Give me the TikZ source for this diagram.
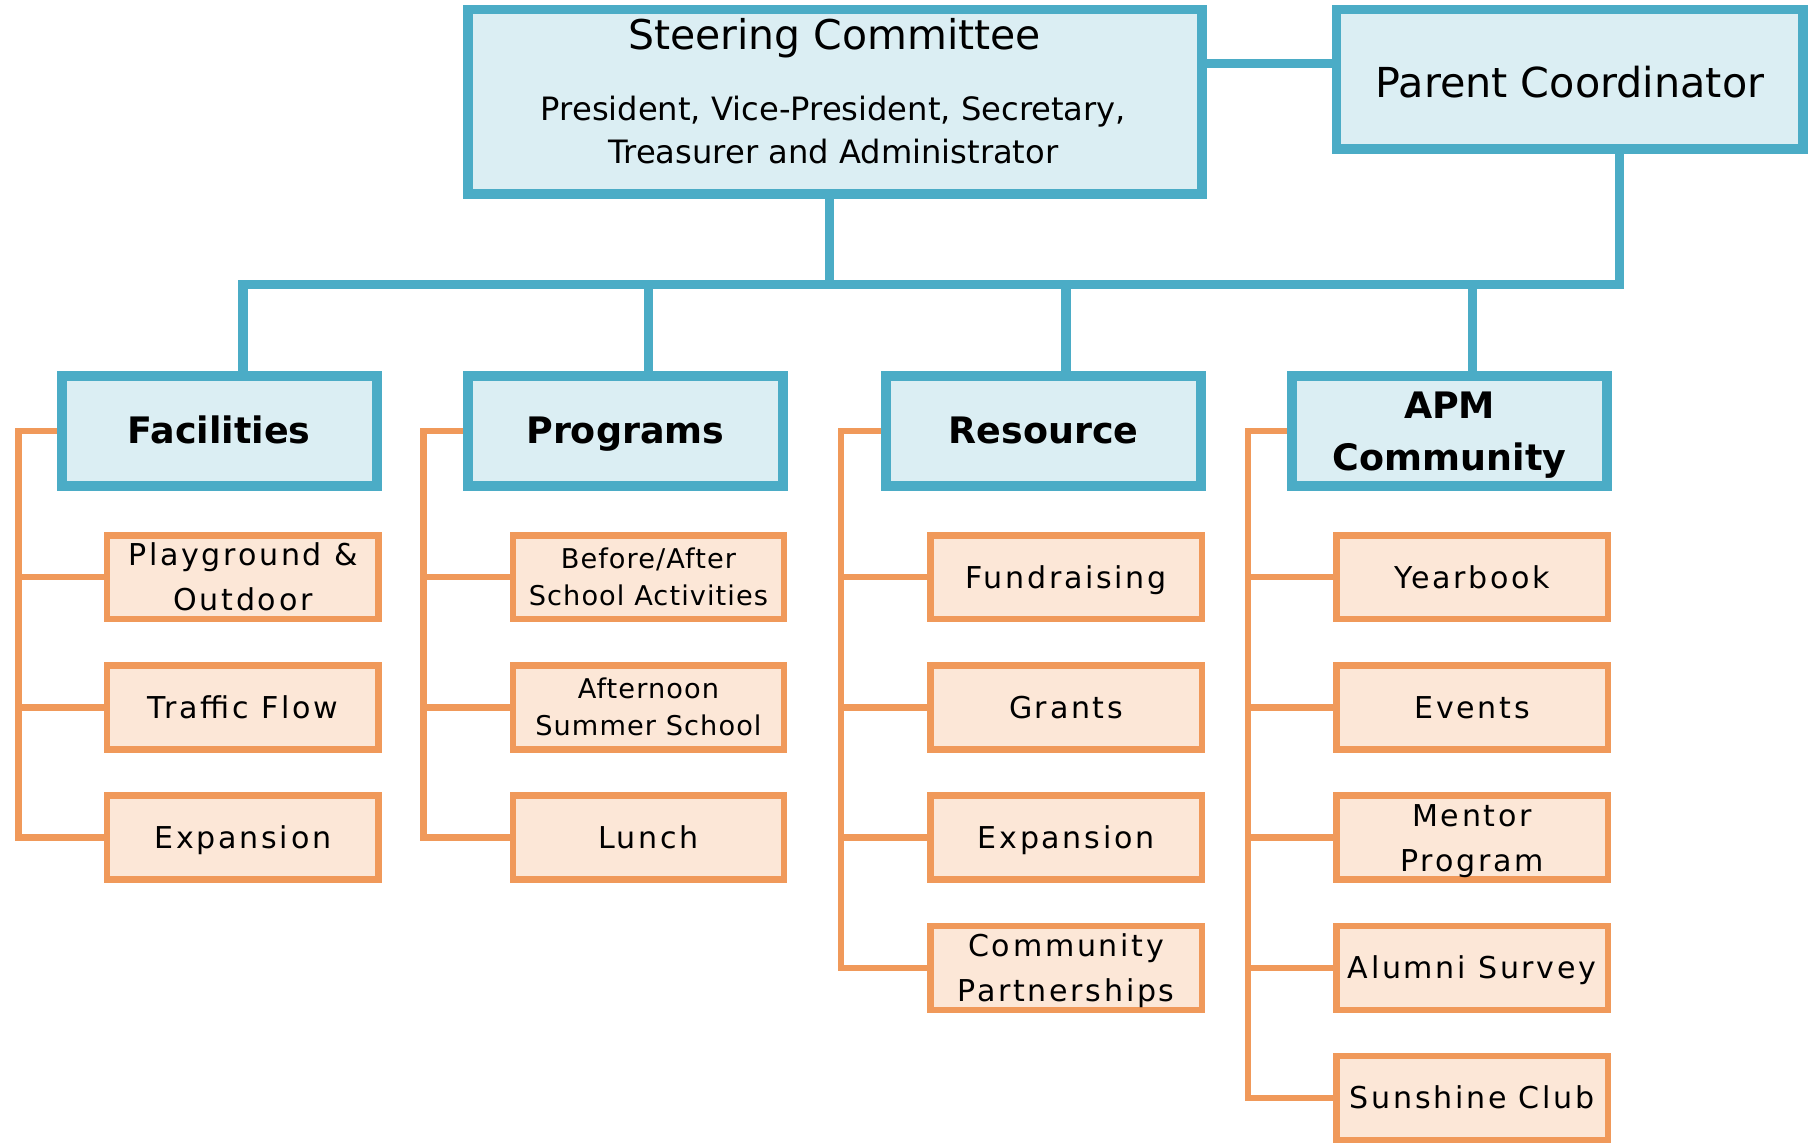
\documentclass[tikz,border=0pt]{standalone}
\usepackage{fontspec}
\setmainfont{DejaVu Sans}
\newfontfamily\kidfont[LetterSpace=9]{DejaVu Sans}
\newfontfamily\kidfontb[LetterSpace=4]{DejaVu Sans}
\usetikzlibrary{backgrounds}
\definecolor{bline}{HTML}{4BACC6}
\definecolor{bfill}{HTML}{DBEEF3}
\definecolor{oline}{HTML}{F0995A}
\definecolor{ofill}{HTML}{FCE7D7}
% two centred lines; the box baseline is that of the second line
\newcommand\twol[2]{\vbox{\halign{\hfil##\hfil\cr#1\cr#2\cr}}}
\begin{document}
\begin{tikzpicture}[x=1pt,y=-1pt,
  bluebox/.style={draw=bline, fill=bfill, line width=8.5pt, inner sep=0pt, text depth=0pt},
  catbox/.style={bluebox, minimum width=272.5, minimum height=94.5,
    font=\bfseries\fontsize{31.5}{45}\selectfont, text height=22pt},
  kidbox/.style={draw=oline, fill=ofill, line width=5.5pt, inner sep=0pt,
    minimum width=234.5, minimum height=72.5, text depth=0pt,
    font=\kidfont\fontsize{26}{39}\selectfont, text height=19pt},
  kidtwo/.style={text height=58pt},
  kidsmall/.style={font=\kidfontb\fontsize{23.5}{32}\selectfont, text height=49pt},
  bconn/.style={draw=bline, line width=8pt},
  oconn/.style={draw=oline, line width=5.5pt},
]
\path[use as bounding box] (0,0) rectangle (1568,988);
\clip (0,0) rectangle (1568,988);

% top level
\node[bluebox, minimum width=634.5, minimum height=159.5] (sc) at (721.5,88) {};
\node[anchor=base, font=\fontsize{35.4}{36}\selectfont] (sctitle) at (721.5,43) {Steering Committee};
\node[anchor=base, font=\fontsize{27.8}{37}\selectfont] (scsub) at (720.5,141)
  {\twol{President, Vice-President, Secretary,}{Treasurer and Administrator}};
\node[bluebox, minimum width=403.5, minimum height=120.5,
  font=\fontsize{35.7}{36}\selectfont, text height=31pt] (pc) at (1357,68.5) {Parent Coordinator};

% committees
\node[catbox] (fac)  at (189.5,372.5) {Facilities};
\node[catbox] (prog) at (540.5,372.5) {Programs};
\node[catbox] (res)  at (902,372.5)   {Resource};
\node[catbox, text height=69pt] (apm) at (1253,372.5) {\twol{APM}{Community}};

% Facilities
\node[kidbox, kidtwo] (f1) at (210,499)   {\twol{Playground \&}{Outdoor}};
\node[kidbox]         (f2) at (210,611.5) {Traffic Flow};
\node[kidbox]         (f3) at (210,724)   {Expansion};
% Programs
\node[kidbox, kidsmall] (p1) at (560.5,499)   {\twol{Before/After}{School Activities}};
\node[kidbox, kidsmall] (p2) at (560.5,611.5) {\twol{Afternoon}{Summer School}};
\node[kidbox]           (p3) at (560.5,724)   {Lunch};
% Resource
\node[kidbox]         (r1) at (921.5,499)   {Fundraising};
\node[kidbox]         (r2) at (921.5,611.5) {Grants};
\node[kidbox]         (r3) at (921.5,724)   {Expansion};
\node[kidbox, kidtwo] (r4) at (921.5,836.5) {\twol{Community}{Partnerships}};
% APM Community
\node[kidbox]         (a1) at (1272.5,499)   {Yearbook};
\node[kidbox]         (a2) at (1272.5,611.5) {Events};
\node[kidbox, kidtwo] (a3) at (1272.5,724)   {\twol{Mentor}{Program}};
\node[kidbox]         (a4) at (1272.5,836.5) {Alumni Survey};
\node[kidbox]         (a5) at (1272.5,949)   {Sunshine Club};

% connector rails
\coordinate (link) at (1100,55);
\coordinate (scdrop) at (717,0);
\coordinate (busR) at (1400,246);
\coordinate (fx) at (16,0);
\coordinate (px) at (366,0);
\coordinate (rx) at (727,0);
\coordinate (ax) at (1079,0);

\begin{scope}[on background layer]
  \draw[bconn] (sc.east |- link) -- (pc.west |- link);
  \draw[bconn] (pc.south -| busR) |- (f1.north |- busR) -- (f1.north |- fac.north);
  \draw[bconn] (sc.south -| scdrop) -- (scdrop |- busR);
  \draw[bconn] (p1.north |- busR) -- (p1.north |- prog.north);
  \draw[bconn] (r1.north |- busR) -- (r1.north |- res.north);
  \draw[bconn] (a1.north |- busR) -- (a1.north |- apm.north);

  \draw[oconn] (fac.west) -- (fac.west -| fx) |- (f3.west);
  \draw[oconn] (f1.west) -- (f1.west -| fx);
  \draw[oconn] (f2.west) -- (f2.west -| fx);

  \draw[oconn] (prog.west) -- (prog.west -| px) |- (p3.west);
  \draw[oconn] (p1.west) -- (p1.west -| px);
  \draw[oconn] (p2.west) -- (p2.west -| px);

  \draw[oconn] (res.west) -- (res.west -| rx) |- (r4.west);
  \draw[oconn] (r1.west) -- (r1.west -| rx);
  \draw[oconn] (r2.west) -- (r2.west -| rx);
  \draw[oconn] (r3.west) -- (r3.west -| rx);

  \draw[oconn] (apm.west) -- (apm.west -| ax) |- (a5.west);
  \draw[oconn] (a1.west) -- (a1.west -| ax);
  \draw[oconn] (a2.west) -- (a2.west -| ax);
  \draw[oconn] (a3.west) -- (a3.west -| ax);
  \draw[oconn] (a4.west) -- (a4.west -| ax);
\end{scope}
\end{tikzpicture}
\end{document}
